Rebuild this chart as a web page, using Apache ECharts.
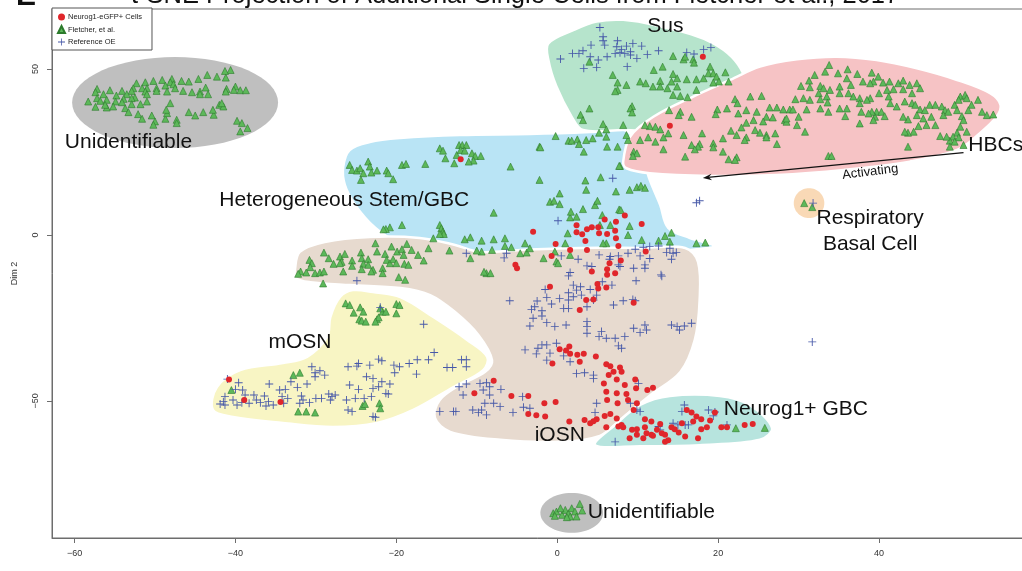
<!DOCTYPE html>
<html>
<head>
<meta charset="utf-8">
<script src="https://cdn.jsdelivr.net/npm/echarts@6/dist/echarts.min.js"></script>
<style>
html,body{margin:0;padding:0;background:#fff}
#chart{width:1022px;height:571px}
</style>
</head>
<body>
<div id="chart"></div>
<script>
// ---- Cell embeddings (Dim 1, Dim 2) ----
const neurog1Cells = [
  [18.1,53.7],[14.0,32.9],
  [-12.0,22.8],[-3.0,1.0],[-0.2,-2.7],[1.6,-4.5],[3.7,-4.5],[-0.7,-6.3],[2.4,0.8],[3.1,0.2],[3.7,1.7],[4.3,2.3],
  [5.2,0.5],[6.2,0.3],[7.2,1.3],[7.3,-1.0],[7.6,-3.3],[5.9,4.7],[7.3,4.0],[8.4,5.9],[10.5,3.3],[2.4,2.9],[3.5,-1.8],
  [5.1,2.3],[-5.2,-9.0],[-5.0,-10.0],[6.2,-10.3],[6.5,-8.5],[4.3,-11.0],[6.2,-12.0],[7.2,-11.5],[11.0,-5.0],[7.9,-7.7],
  [-0.9,-15.6],[5.0,-14.8],[5.1,-16.1],[6.1,-15.8],[3.6,-19.6],[4.5,-19.4],[2.8,-22.6],[9.5,-20.4],[1.5,-33.6],[0.3,-34.4],
  [1.1,-34.8],[1.6,-35.8],[2.5,-36.1],[3.3,-35.8],[4.8,-36.6],[2.8,-38.2],[-0.6,-38.7],[6.1,-38.9],[6.6,-39.5],[7.8,-39.9],
  [7.0,-41.2],[8.0,-41.2],[7.4,-43.5],[5.8,-44.7],[6.4,-42.2],[9.7,-43.5],[8.4,-45.2],[9.8,-46.2],[11.2,-46.7],[11.9,-46.0],
  [6.1,-47.2],[7.4,-47.7],[8.6,-47.9],[6.2,-49.7],[7.5,-50.7],[8.8,-49.7],[9.9,-50.7],[9.5,-52.7],[10.9,-55.5],[11.7,-56.2],
  [12.8,-56.9],[-7.9,-43.9],[-3.6,-48.5],[-5.7,-48.5],[-1.6,-50.7],[-0.2,-50.3],[-3.6,-53.9],[-2.6,-54.3],[-1.5,-54.7],
  [1.5,-56.2],[3.4,-55.7],[4.1,-56.7],[4.5,-56.1],[4.9,-55.5],[5.9,-54.5],[6.6,-53.9],[7.4,-55.3],[7.6,-57.7],[6.1,-57.9],
  [8.2,-57.9],[8.0,-57.2],[9.3,-58.7],[9.9,-58.5],[10.9,-57.9],[11.1,-59.7],[9.9,-60.2],[11.7,-60.2],[12.4,-58.7],[13.0,-59.7],
  [13.4,-60.2],[14.2,-57.9],[15.5,-56.7],[16.7,-53.5],[17.3,-54.7],[17.9,-55.5],[19.0,-55.9],[19.6,-53.5],[16.9,-56.2],
  [16.1,-52.7],[17.9,-58.5],[18.6,-57.9],[20.4,-57.9],[21.1,-57.9],[13.8,-61.8],[15.9,-60.7],[14.6,-58.5],[15.1,-59.5],
  [9.0,-61.2],[10.7,-61.2],[11.9,-60.5],[17.5,-61.2],[13.4,-62.3],
  [-40.8,-43.5],[-38.9,-49.7],[-34.4,-50.3],[-10.3,-47.7],[23.3,-57.2],[24.3,-56.9]
];

const fletcherCells = [
  // upper-left unidentifiable cluster
  [-40.6,49.7],[-41.3,49.4],[-41.2,47.4],[-42.3,47.7],[-43.5,48.2],[-44.6,47.0],[-45.8,46.2],[-46.7,46.4],[-47.9,47.0],
  [-48.1,46.0],[-49.1,46.7],[-50.2,46.4],[-51.2,46.0],[-52.3,45.7],[-49.8,44.2],[-48.7,45.0],[-47.7,45.4],[-51.0,44.2],
  [-51.6,44.2],[-52.7,44.2],[-52.9,43.4],[-54.1,43.4],[-55.6,43.6],[-57.2,44.0],[-57.4,43.0],[-56.4,42.4],[-54.8,42.0],
  [-53.5,42.4],[-52.5,41.4],[-51.2,43.2],[-51.0,42.4],[-49.8,43.4],[-48.5,43.2],[-47.5,44.2],[-46.5,43.4],[-45.4,43.0],
  [-44.4,43.2],[-43.7,44.4],[-43.4,42.4],[-44.4,42.4],[-41.1,44.0],[-41.2,43.2],[-40.0,44.7],[-40.2,43.7],[-39.4,43.6],
  [-38.7,43.6],[-58.3,40.2],[-57.2,41.2],[-56.8,40.4],[-56.0,40.7],[-54.9,40.2],[-53.9,41.0],[-52.9,41.2],[-51.8,39.4],
  [-51.0,40.2],[-52.9,39.4],[-53.7,38.2],[-53.3,37.0],[-54.1,40.0],[-55.2,38.7],[-56.0,38.4],[-57.4,38.6],[-56.2,39.2],
  [-52.1,36.4],[-50.4,36.0],[-51.6,35.0],[-50.0,34.2],[-50.2,33.2],[-48.7,35.0],[-48.5,36.7],[-48.6,37.7],[-48.1,39.7],
  [-47.3,34.7],[-47.3,33.7],[-45.8,37.0],[-45.0,36.0],[-44.0,37.0],[-42.7,36.2],[-42.8,37.7],[-42.0,39.2],[-41.5,38.7],
  [-41.7,39.7],[-39.8,34.4],[-39.2,33.7],[-39.4,31.2],[-38.5,32.2],
  // lower unidentifiable cluster
  [-0.5,-83.8],[-0.1,-83.3],[0.6,-84.3],[1.0,-82.8],[1.4,-83.8],[1.6,-84.8],[1.8,-82.3],[2.2,-83.3],[2.8,-81.0],
  [3.1,-83.0],[0.4,-82.3],[1.2,-85.0],[2.4,-84.8],[-0.3,-84.6],
  // respiratory basal
  [30.7,9.6],[31.7,8.4],
  // Sus
  [4.0,52.2],[6.9,48.2],[7.5,45.9],[8.6,45.2],[7.5,43.7],[10.3,46.2],[11.0,45.7],[12.0,49.7],[11.9,44.7],[12.8,46.4],
  [13.1,50.7],[14.4,53.9],[15.7,52.9],[16.9,52.9],[17.0,51.9],[17.3,46.9],[16.1,46.9],[14.4,48.5],[14.2,46.2],[14.9,44.7],
  [13.7,44.2],[14.4,42.2],[15.3,41.9],[16.2,41.5],[17.3,43.7],[18.2,47.2],[19.0,50.7],[18.8,48.7],[19.4,48.7],[19.8,47.7],
  [20.1,46.2],[20.9,49.0],[19.4,45.9],[21.3,46.2],[15.9,53.7],[14.9,47.2],[2.9,36.2],[3.2,34.6],[4.0,38.1],[9.3,38.8],
  [9.1,38.1],[9.3,36.9],[5.7,33.4],[6.1,31.8],[8.2,33.1],[7.2,43.3],[12.8,44.7],
  // HBCs
  [33.8,51.2],[32.0,48.2],[33.3,49.2],[34.9,48.7],[36.1,49.9],[37.3,48.5],[36.0,47.2],[39.1,48.9],[39.9,47.7],[40.5,45.9],
  [38.0,46.2],[39.3,46.2],[41.3,46.2],[42.4,45.7],[43.0,46.5],[43.8,45.2],[44.7,45.7],[45.1,44.2],[44.1,42.7],[43.0,43.9],
  [41.8,43.9],[41.0,43.7],[38.9,45.7],[36.5,45.2],[35.1,44.7],[33.9,43.7],[32.7,44.9],[31.3,46.5],[30.3,44.9],[31.4,44.5],
  [32.5,42.7],[33.5,41.7],[33.6,39.9],[32.7,40.9],[31.4,40.7],[30.6,41.2],[29.6,40.9],[28.9,37.8],[28.1,37.8],[29.3,37.8],
  [27.3,38.4],[26.4,38.4],[25.4,41.9],[24.0,41.7],[22.1,40.9],[22.4,39.7],[21.1,38.1],[19.9,37.8],[19.7,36.4],[22.5,36.6],
  [23.5,37.6],[24.8,37.1],[26.0,35.6],[26.8,35.4],[25.6,34.2],[24.4,34.6],[23.5,33.8],[24.6,31.6],[25.2,30.8],[26.0,30.1],
  [27.1,30.6],[27.3,27.4],[26.0,29.4],[23.5,29.4],[23.3,28.6],[22.3,30.1],[21.6,31.4],[22.9,32.4],[20.6,29.1],[19.4,27.6],
  [17.7,27.4],[17.5,26.6],[16.7,27.1],[15.7,30.1],[18.0,30.6],[16.7,35.6],[15.3,37.1],[15.1,36.1],[13.9,37.6],[11.5,32.8],
  [10.9,33.1],[12.2,32.6],[12.8,31.8],[13.8,30.6],[13.2,29.4],[13.2,25.8],[12.2,28.1],[11.3,29.4],[10.3,28.6],[8.8,28.6],
  [9.5,25.1],[9.9,24.6],[9.4,23.8],[7.8,20.8],[15.9,23.6],[17.1,25.8],[19.4,26.4],[20.6,25.1],[21.3,22.8],[22.3,23.4],
  [22.1,22.6],[30.8,31.1],[28.3,34.6],[28.5,34.1],[30.0,35.6],[31.0,37.8],[32.7,38.1],[33.7,37.1],[35.1,38.1],[36.0,38.1],
  [35.8,35.8],[36.8,41.7],[37.6,41.2],[38.9,41.2],[36.2,42.7],[35.1,42.7],[33.1,44.2],[40.0,42.7],[41.2,41.7],[41.4,39.7],
  [42.2,38.7],[43.2,40.2],[44.1,39.7],[44.5,39.2],[45.1,37.8],[45.7,37.6],[46.5,35.6],[46.3,39.2],[47.0,39.2],[47.8,38.7],
  [48.2,37.6],[48.0,36.1],[48.6,37.1],[49.4,39.2],[50.1,41.7],[50.7,42.2],[50.9,41.2],[49.9,40.7],[51.5,39.2],[52.3,40.7],
  [52.8,37.1],[53.4,36.1],[54.2,36.3],[51.1,37.6],[49.7,37.6],[50.3,35.8],[50.5,34.6],[50.1,32.6],[49.7,30.8],[50.9,31.1],
  [49.2,29.6],[49.9,29.4],[48.8,28.4],[48.4,29.6],[49.4,28.1],[48.8,26.6],[50.5,27.1],[47.6,29.8],[47.0,33.1],[45.9,33.1],
  [44.9,32.8],[44.3,31.1],[43.6,30.8],[43.2,31.1],[45.5,35.1],[44.7,36.1],[43.6,34.8],[43.0,35.6],[39.7,37.1],[40.3,37.1],
  [40.7,35.8],[39.5,35.6],[39.3,34.6],[39.1,37.1],[38.7,36.6],[37.8,37.1],[37.6,33.6],[43.6,26.6],[33.7,23.8],[34.1,23.8],
  [37.6,39.7],[38.5,40.7],[28.5,35.1],[29.8,33.1],
  // heterogeneous stem / GBC
  [-25.8,21.1],[-25.5,19.6],[-24.9,19.4],[-24.5,20.1],[-24.1,18.6],[-24.4,16.6],[-23.5,22.1],[-23.3,20.6],[-23.1,18.8],
  [-22.4,19.4],[-21.2,19.4],[-21.0,18.6],[-20.4,16.8],[-19.3,21.1],[-18.8,21.4],[-16.4,21.4],[-14.6,26.1],[-14.2,25.4],
  [-13.9,23.1],[-12.5,24.1],[-12.2,27.1],[-11.8,27.1],[-11.3,27.1],[-12.0,25.6],[-11.5,25.4],[-10.6,24.6],[-10.2,23.8],
  [-9.5,23.8],[-10.4,22.4],[-11.0,22.1],[-12.8,21.6],[-5.8,20.6],[-2.2,26.6],[-2.1,26.4],[-0.2,29.8],[1.4,28.4],[1.8,28.4],
  [2.5,28.8],[2.7,27.4],[3.6,28.6],[4.4,29.1],[5.2,30.8],[6.1,29.6],[6.2,26.6],[7.5,26.6],[8.6,30.1],[3.3,25.1],[-2.2,16.6],
  [0.3,12.5],[-0.9,10.0],[-0.4,10.3],[0.3,9.3],[3.5,16.4],[5.4,17.4],[3.6,13.6],[7.3,13.1],[9.0,13.6],[9.9,14.4],[10.4,14.8],
  [10.9,14.2],[7.7,20.8],[-7.9,6.7],[-19.3,3.0],[-20.8,2.3],[-21.3,1.8],[-21.6,1.7],[-14.6,3.0],[-14.4,2.0],[-14.2,1.0],
  [-14.1,0.3],[-14.6,0.3],[-15.4,-1.0],[-11.5,-1.3],[-10.8,-0.7],[-9.4,-1.7],[-7.9,-1.3],[-6.5,-1.0],[-9.4,-5.0],[-10.0,-4.7],
  [-8.1,-4.5],[-13.4,-4.7],[-6.5,-3.3],[-5.7,-3.7],[-4.6,-5.5],[-3.8,-5.3],[-4.0,-2.5],[-3.4,-4.0],[-0.1,-8.0],[0.1,-8.5],
  [3.2,7.8],[4.7,9.0],[5.0,10.3],[5.6,6.0],[7.7,7.7],[7.9,7.5],[9.0,2.7],[1.6,5.3],[2.4,5.5],[1.7,7.0],[5.3,3.0],[6.6,3.0],
  [6.1,-2.5],[5.7,-2.5],[8.8,0.0],[10.5,-1.5],[12.6,-1.7],[13.4,-0.3],[14.2,0.7],[14.0,-2.0],[17.3,-2.5],[18.4,-2.3],
  [1.3,0.5],[1.0,-2.5],[-0.3,-5.0],[1.6,-6.0],[-1.7,-7.0],[-8.8,-11.5],[-8.3,-11.5],[-9.1,-11.1],[-10.8,-7.0],
  // iOSN upper lobe
  [-30.8,-7.5],[-30.5,-8.5],[-30.7,-9.7],[-31.9,-11.0],[-32.2,-11.7],[-31.2,-11.3],[-30.1,-11.5],[-29.5,-11.3],[-29.0,-11.0],
  [-29.0,-5.3],[-28.4,-7.0],[-27.8,-8.7],[-27.0,-6.5],[-26.8,-8.1],[-27.0,-8.5],[-26.4,-5.7],[-25.5,-7.7],[-25.5,-9.3],
  [-26.6,-11.0],[-24.4,-5.3],[-24.3,-7.0],[-23.5,-7.3],[-24.1,-8.7],[-24.3,-10.3],[-23.5,-9.0],[-22.9,-10.5],[-23.1,-11.0],
  [-22.6,-2.5],[-22.4,-5.0],[-21.7,-10.0],[-21.4,-5.7],[-21.2,-7.5],[-21.7,-11.5],[-20.8,-8.5],[-20.6,-3.5],[-20.4,-7.3],
  [-19.9,-5.0],[-19.7,-12.7],[-20.0,-8.5],[-19.3,-4.3],[-19.1,-6.0],[-19.0,-8.7],[-18.7,-2.7],[-18.1,-4.5],[-18.5,-9.0],
  [-17.3,-6.0],[-16.6,-7.7],[-16.0,-4.0],[-29.1,-14.6],[-18.9,-13.5],
  // mOSN
  [-26.3,-20.6],[-25.8,-21.1],[-24.5,-21.8],[-25.3,-23.4],[-24.1,-23.1],[-24.6,-25.4],[-24.3,-25.8],[-23.8,-26.1],
  [-22.4,-25.4],[-22.2,-24.8],[-21.7,-23.1],[-21.3,-23.1],[-22.0,-22.1],[-20.0,-20.8],[-19.6,-21.1],[-20.0,-23.6],
  [-22.6,-26.1],[-40.5,-46.7],[-32.8,-42.2],[-32.0,-41.5],[-32.2,-53.2],[-31.2,-53.2],[-30.1,-53.5],[-24.2,-51.5],
  [-23.9,-50.9],[-22.1,-50.7],[-22.0,-52.2],
  // Neurog1+ GBC
  [22.2,-58.2],[25.8,-58.1]
];

const referenceOE = [
  // Sus
  [5.3,62.5],[5.7,59.7],[5.7,58.5],[4.2,57.2],[3.2,55.5],[1.9,54.7],[2.7,54.7],[0.4,53.0],[3.3,50.2],[4.9,50.5],[4.1,53.7],
  [5.1,52.7],[5.9,57.2],[7.5,58.5],[7.4,56.7],[8.6,56.9],[9.4,57.7],[10.5,56.9],[7.8,54.9],[8.4,54.7],[9.1,55.2],[9.1,54.2],
  [8.7,50.7],[9.9,53.2],[11.2,54.4],[12.6,55.5],[6.2,53.7],[7.2,54.7],[8.0,55.9],[16.1,55.0],[17.0,54.5],[18.2,55.9],[19.1,56.5],
  // stem / GBC and iOSN
  [6.9,17.1],[17.7,10.3],[17.3,9.7],[0.1,4.3],[-11.3,-5.5],[-6.6,-6.9],[-6.3,-5.5],[0.5,-6.3],[2.6,-7.3],[5.2,-6.0],
  [6.6,-6.5],[7.6,-6.3],[8.8,-5.5],[9.7,-4.3],[10.7,-3.7],[11.5,-3.5],[12.6,-3.3],[14.0,-4.0],[14.4,-5.5],[14.8,-5.3],
  [14.2,-7.3],[11.5,-7.1],[10.3,-6.3],[10.9,-9.0],[10.9,-10.0],[9.5,-10.0],[7.8,-9.5],[6.5,-7.3],[3.7,-9.3],[4.3,-9.5],
  [7.6,-9.0],[1.6,-11.3],[1.4,-12.3],[12.9,-12.0],[13.6,-5.3],
  [-1.5,-16.4],[2.0,-15.1],[2.9,-15.6],[5.6,-14.1],[6.8,-15.1],[9.8,-13.8],[1.4,-17.4],[2.4,-16.6],[4.1,-16.4],[3.0,-18.1],
  [3.7,-21.6],[4.5,-19.6],[4.9,-18.1],[1.4,-19.6],[2.0,-18.6],[0.3,-19.1],[-2.5,-19.9],[-1.3,-18.8],[-3.2,-22.4],[-2.8,-21.6],
  [-1.9,-22.8],[-0.7,-20.8],[0.8,-22.1],[1.4,-22.1],[-5.9,-19.8],[-3.4,-27.4],[-3.0,-25.1],[-1.9,-24.4],[-1.3,-26.4],
  [-0.3,-27.6],[1.1,-27.1],[3.7,-26.1],[3.7,-27.6],[3.7,-29.6],[5.2,-30.6],[5.5,-29.1],[6.1,-31.1],[7.2,-31.1],[8.4,-30.6],
  [7.6,-33.4],[8.0,-34.1],[9.5,-28.1],[9.7,-19.8],[9.4,-19.4],[7.0,-21.1],[8.2,-19.8],[10.3,-29.4],[10.9,-27.1],[11.1,-28.6],
  [14.2,-27.1],[14.9,-27.6],[15.2,-28.6],[15.8,-27.4],[16.7,-26.6],[13.0,-12.4],[-4.0,-34.6],[-2.6,-35.8],[-2.4,-34.1],
  [-1.3,-33.1],[-0.9,-35.6],[-1.3,-37.7],[-0.1,-32.6],[0.8,-36.4],[1.6,-38.2],[2.4,-41.7],[3.4,-41.5],[4.5,-42.2],[4.5,-43.2],
  [-1.9,-33.1],[-9.6,-44.7],[-8.8,-44.5],[-9.2,-46.7],[-8.4,-45.7],[-8.4,-48.2],[-7.0,-46.5],[-7.9,-50.7],[-7.1,-51.7],
  [-9.0,-50.7],[-9.4,-52.7],[-8.8,-54.2],[-5.5,-53.5],[-4.3,-48.7],[-4.2,-51.9],[-3.4,-52.2],[4.9,-50.7],[4.7,-53.5],
  [10.1,-44.7],[9.9,-52.7],[10.3,-53.2],[9.1,-50.7],[14.4,-56.7],[15.0,-57.2],[15.9,-57.2],[16.3,-57.2],[15.8,-51.2],
  [15.5,-53.2],[18.8,-52.7],[19.4,-54.5],[21.1,-57.2],[7.2,-62.3],[12.8,-58.7],[12.6,-57.7],[19.6,-53.3],
  [-24.9,-13.8],[-12.2,-45.7],[-11.3,-44.9],[-11.7,-48.2],[-14.6,-53.2],[-12.9,-53.2],[-12.6,-53.2],[-10.5,-52.7],[-9.8,-53.5],
  // mOSN
  [-22.0,-21.8],[-16.6,-26.9],[-15.3,-35.4],[-17.5,-41.9],
  [-41.0,-43.4],[-39.6,-44.5],[-40.0,-46.5],[-41.3,-48.7],[-41.5,-50.2],[-41.9,-50.9],[-41.3,-51.2],[-40.3,-49.7],[-39.8,-51.2],
  [-39.2,-50.5],[-38.8,-48.2],[-39.1,-46.7],[-38.3,-50.7],[-37.7,-48.2],[-37.4,-49.7],[-36.9,-50.5],[-36.4,-48.5],[-36.2,-51.5],
  [-35.9,-50.2],[-35.3,-51.2],[-35.8,-44.9],[-34.5,-46.7],[-33.8,-46.5],[-34.2,-48.7],[-33.5,-49.2],[-34.0,-50.7],[-33.1,-44.2],
  [-32.3,-45.9],[-31.8,-48.5],[-32.0,-50.7],[-31.6,-49.7],[-31.1,-44.9],[-30.8,-50.5],[-30.5,-39.7],[-30.1,-41.5],[-29.5,-40.9],
  [-28.9,-42.2],[-30.1,-42.7],[-30.0,-49.2],[-29.3,-49.2],[-28.4,-47.9],[-28.0,-48.7],[-28.2,-49.7],[-27.6,-48.2],[-26.0,-39.7],
  [-24.9,-39.5],[-24.7,-38.7],[-23.3,-39.2],[-22.2,-37.4],[-21.8,-37.9],[-20.3,-39.2],[-19.6,-39.7],[-20.2,-41.5],[-18.4,-38.7],
  [-17.4,-37.6],[-16.0,-37.6],[-13.7,-39.9],[-13.0,-39.9],[-11.9,-37.6],[-11.3,-37.6],[-11.3,-39.7],[-23.7,-42.7],
  [-22.9,-43.2],[-21.8,-44.2],[-20.8,-44.9],[-21.3,-47.7],[-21.0,-47.9],[-22.9,-46.2],[-24.7,-46.5],[-25.8,-45.2],[-26.2,-49.7],
  [-25.1,-49.2],[-24.0,-49.2],[-23.1,-48.7],[-22.2,-45.7],[-26.0,-52.7],[-25.5,-53.2],[-22.9,-54.7],[-22.6,-54.9],
  // outliers
  [31.8,9.6],[31.7,-32.2]
];

// ---- Annotated cell-type regions (outlines in Dim 1 / Dim 2 units) ----
const stemGbcOutline = [[-26.6,20.5],[-25.8,25.6],[-23.3,28.0],[-19.5,29.2],[-12.1,30.1],[-3.4,30.4],[4.1,31.0],[8.4,31.6],
  [10.3,25.6],[11.5,16.6],[12.8,9.0],[13.8,2.1],[16.5,-0.9],[19.4,-3.3],[16.5,-4.5],[5.3,-7.5],[-4.6,-12.0],[-8.4,-13.9],
  [-12.1,-12.0],[-15.8,-8.1],[-19.5,-3.0],[-22.6,2.1],[-25.1,9.0],[-26.4,15.1]];
const susOutline = [[-1.1,57.7],[2.0,61.7],[4.9,64.3],[8.2,64.8],[12.0,63.3],[19.4,57.7],[23.1,48.7],[22.7,39.7],[14.4,31.6],
  [8.2,31.6],[3.2,31.6],[1.8,35.6],[-0.1,44.7],[-1.1,52.7]];
const hbcOutline = [[8.2,22.1],[9.05,29.6],[11.95,35.6],[16.9,41.7],[21.5,46.7],[25.2,50.7],[29.8,52.9],[34.7,53.7],[39.7,52.7],
  [44.7,50.2],[49.7,46.7],[53.8,42.7],[55.1,39.2],[54.6,35.6],[52.5,30.6],[49.7,25.6],[43.8,22.1],[35.6,19.6],[27.3,18.1],
  [19.0,17.8],[11.5,18.6],[8.6,20.1]];
const iosnOutline = [[-32.6,-10.5],[-32.0,-5.1],[-28.9,-2.1],[-23.3,-0.6],[-17.1,-0.9],[-12.7,-3.0],[-9.6,-5.1],[-4.6,-4.5],
  [2.8,-3.9],[10.3,-3.9],[15.9,-3.9],[17.5,-8.1],[17.7,-19.6],[17.1,-31.6],[15.3,-41.3],[11.6,-48.2],[7.8,-55.7],[5.3,-60.5],
  [0.3,-62.3],[-7.1,-61.7],[-13.3,-59.3],[-15.2,-55.1],[-14.6,-49.7],[-12.1,-45.2],[-9.0,-41.3],[-8.1,-37.7],[-9.8,-30.1],
  [-12.7,-23.2],[-15.8,-18.1],[-19.5,-16.0],[-25.7,-15.1],[-30.7,-14.2],[-32.5,-13.0]];
const mosnOutline = [[-42.8,-52.7],[-42.3,-45.8],[-39.4,-40.7],[-34.1,-38.6],[-31.1,-36.7],[-28.6,-30.7],[-28.2,-24.7],
  [-27.0,-18.7],[-25.4,-16.6],[-22.9,-17.2],[-19.5,-18.7],[-15.4,-24.7],[-11.2,-31.6],[-8.7,-36.7],[-9.2,-40.7],[-12.9,-45.8],
  [-17.9,-52.7],[-22.4,-56.6],[-27.9,-57.8],[-34.1,-56.6],[-40.3,-54.8]];
const neurogGbcOutline = [[4.7,-63.3],[7.2,-57.2],[10.3,-51.2],[14.0,-48.5],[20.2,-48.5],[23.9,-51.2],[26.7,-58.1],[25.2,-61.7],
  [17.7,-63.3],[10.3,-63.6]];
// ellipses: centre x, centre y, radius x, radius y
const unidentifiedTop = [-47.5, 39.9, 12.8, 13.7];
const unidentifiedBottom = [1.8, -83.7, 3.9, 6.0];
const respiratoryBasal = [31.3, 9.6, 1.9, 4.5];

// ---- Region names ----
const regionNames = ['Unidentifiable','Sus','HBCs','Heterogeneous Stem/GBC','Respiratory\nBasal Cell','mOSN','iOSN','Neurog1+ GBC','Unidentifiable'];
const regionNameAnchors = [[-61.2,28.0],[11.2,63.0],[51.1,27.1],[-42.0,10.4],[38.9,1.2],[-35.9,-32.2],[-2.8,-60.4],[20.7,-52.4],[3.8,-83.6]];
const trajectory = [[50.5,24.8],[18.1,17.2]];
const trajectoryLabel = ['Activating', 38.9, 19.0];

const xTicks = [-60,-40,-20,0,20,40];
const yTicks = [-50,0,50];

// ---- drawing ----
const FONT = '"Liberation Sans", Arial, Helvetica, sans-serif';
const regions = [
  {outline: stemGbcOutline, fill: '#b9e4f5'},
  {outline: susOutline, fill: '#b6e4cc'},
  {outline: hbcOutline, fill: '#f6c3c5'},
  {outline: iosnOutline, fill: '#e7dacf'},
  {outline: mosnOutline, fill: '#f8f5c4'},
  {outline: neurogGbcOutline, fill: '#b7e4de'},
  {ellipse: unidentifiedTop, fill: '#bfbfbf'},
  {ellipse: unidentifiedBottom, fill: '#bfbfbf'},
  {ellipse: respiratoryBasal, fill: '#f9d9b6'}
];

function renderRegion(params, api) {
  const r = regions[params.dataIndex];
  let pts;
  if (r.ellipse) {
    const [cx, cy, rx, ry] = r.ellipse;
    const c = api.coord([cx, cy]);
    const sx = api.size([rx, 0])[0], sy = api.size([0, ry])[1];
    pts = [];
    for (let k = 0; k < 64; k++) {
      const a = k / 64 * Math.PI * 2;
      pts.push([c[0] + sx * Math.cos(a), c[1] + sy * Math.sin(a)]);
    }
    return {type: 'polygon', shape: {points: pts}, style: {fill: r.fill, stroke: 'none'}};
  }
  pts = r.outline.map(p => api.coord(p));
  return {type: 'polygon', shape: {points: pts, smooth: 0.35},
    style: {fill: r.fill, stroke: '#ffffff', lineWidth: 2.5}};
}

function renderName(params, api) {
  const i = params.dataIndex;
  const p = api.coord(regionNameAnchors[i]);
  return {type: 'text', x: p[0], y: p[1], style: {
    text: regionNames[i], fill: '#111', font: '21px ' + FONT,
    align: i === 4 ? 'center' : 'left', verticalAlign: 'middle', lineHeight: 25.5
  }};
}

function renderTrajectory(params, api) {
  const a = api.coord(trajectory[0]);
  const b = api.coord(trajectory[1]);
  const ang = Math.atan2(b[1] - a[1], b[0] - a[0]);
  const len = 9, half = 3.2;
  const bx = b[0] - len * Math.cos(ang), by = b[1] - len * Math.sin(ang);
  const head = [[b[0], b[1]],
    [bx + half * Math.sin(ang), by - half * Math.cos(ang)],
    [b[0] - 6 * Math.cos(ang), b[1] - 6 * Math.sin(ang)],
    [bx - half * Math.sin(ang), by + half * Math.cos(ang)]];
  const t = api.coord([trajectoryLabel[1], trajectoryLabel[2]]);
  return {type: 'group', children: [
    {type: 'line', shape: {x1: a[0], y1: a[1], x2: b[0] - 5 * Math.cos(ang), y2: b[1] - 5 * Math.sin(ang)},
      style: {stroke: '#111', lineWidth: 1.4}},
    {type: 'polygon', shape: {points: head}, style: {fill: '#111'}},
    {type: 'text', x: t[0], y: t[1], rotation: 7 * Math.PI / 180,
      style: {text: trajectoryLabel[0], fill: '#111', font: '13px ' + FONT, align: 'center', verticalAlign: 'middle'}}
  ]};
}

const PLUS = 'path://M4,0H5V4H9V5H5V9H4V5H0V4H4Z';

const chart = echarts.init(document.getElementById('chart'), null, {renderer: 'canvas'});
chart.setOption({
  animation: false,
  backgroundColor: '#ffffff',
  graphic: [
    {type: 'text', x: 16, y: -3, style: {text: 'E', font: 'bold 30px ' + FONT, fill: '#111', verticalAlign: 'middle'}},
    {type: 'text', x: 131, y: -4, style: {text: 't-SNE Projection of Additional Single Cells from Fletcher et al., 2017',
      font: '25.5px ' + FONT, fill: '#111', verticalAlign: 'middle'}}
  ],
  grid: {left: 52, top: 9, width: 1000, height: 529, show: true, borderColor: '#6d6d6d', borderWidth: 1,
    outerBoundsMode: 'none'},
  legend: {
    left: 52, top: 8, orient: 'vertical',
    backgroundColor: '#fff', borderColor: '#555', borderWidth: 1,
    padding: [5, 10, 4, 5], itemGap: 4, itemWidth: 7, itemHeight: 7,
    textStyle: {fontSize: 7.5, fontFamily: FONT, color: '#222', padding: [0, 0, 0, -2]},
    data: ['Neurog1-eGFP+ Cells', 'Fletcher, et al.', 'Reference OE']
  },
  xAxis: {
    type: 'value', min: -62.8, max: 61.5,
    splitLine: {show: false},
    axisLine: {onZero: false, lineStyle: {color: '#6d6d6d'}},
    axisTick: {show: true, length: 5, customValues: xTicks, lineStyle: {color: '#6d6d6d'}},
    axisLabel: {customValues: xTicks, fontSize: 9, fontFamily: FONT, color: '#333', margin: 11.5,
      formatter: v => String(v).replace('-', '\u2212')}
  },
  yAxis: {
    type: 'value', min: -91.27, max: 68.07,
    name: 'Dim 2', nameLocation: 'middle', nameGap: 33, nameRotate: 90,
    nameTextStyle: {fontSize: 9, fontFamily: FONT, color: '#333'},
    splitLine: {show: false},
    axisLine: {onZero: false, lineStyle: {color: '#6d6d6d'}},
    axisTick: {show: true, length: 5, customValues: yTicks, lineStyle: {color: '#6d6d6d'}},
    axisLabel: {customValues: yTicks, rotate: 90, fontSize: 9, fontFamily: FONT, color: '#333', margin: 12,
      formatter: v => String(v).replace('-', '\u2212')}
  },
  series: [
    {type: 'custom', name: 'regions', renderItem: renderRegion, data: regions.map((r, i) => [0, 0]), z: 1, silent: true},
    {type: 'scatter', name: 'Fletcher, et al.', data: fletcherCells, symbol: 'triangle', symbolSize: 7,
      itemStyle: {color: '#5db85a', borderColor: '#2c7a2c', borderWidth: 0.6, opacity: 1}, z: 3},
    {type: 'scatter', name: 'Reference OE', data: referenceOE, symbol: PLUS, symbolSize: 8,
      itemStyle: {color: '#4658a8', opacity: 1}, z: 4},
    {type: 'scatter', name: 'Neurog1-eGFP+ Cells', data: neurog1Cells, symbol: 'circle', symbolSize: 6,
      itemStyle: {color: '#e0262b', opacity: 1}, z: 5},
    {type: 'custom', name: 'names', renderItem: renderName, data: regionNameAnchors, z: 6, silent: true},
    {type: 'custom', name: 'trajectory', renderItem: renderTrajectory, data: [trajectory[0]], z: 6, silent: true}
  ]
});
</script>
</body>
</html>
